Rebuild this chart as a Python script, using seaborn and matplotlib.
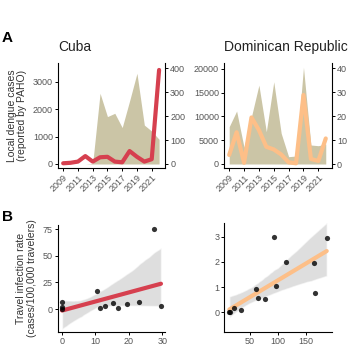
import numpy as np
import pandas as pd
import matplotlib
matplotlib.use("Agg")
import matplotlib.pyplot as plt
import seaborn as sns

# ---------------- data ----------------
years = [2009, 2010, 2011, 2012, 2013, 2014, 2015, 2016, 2017, 2018, 2019, 2020, 2021, 2022]
cuba_local = [0, 0, 0, 0, 20, 2580, 1730, 1850, 1330, 2300, 3310, 1420, 1200, 900]
cuba_travel = [3, 5, 10, 33, 10, 28, 30, 10, 7, 54, 30, 10, 20, 392]
dr_local = [7850, 11150, 3500, 10000, 16600, 6800, 17300, 6460, 1540, 1680, 20350, 4000, 3850, 4200]
dr_travel = [3.8, 13.3, 0.5, 19.5, 14.2, 7.2, 6.1, 4.0, 0.7, 0.3, 28.9, 2.1, 1.3, 10.7]
year_ticks = [2009, 2011, 2013, 2015, 2017, 2019, 2021]

cuba_x = [0.1, 0.1, 0.1, 10.5, 11.4, 12.9, 15.4, 16.7, 19.4, 22.9, 27.6, 29.6]
cuba_y = [6.9, 2.2, 0.0, 16.9, 0.5, 2.8, 5.3, 1.0, 4.7, 6.3, 75.0, 2.8]
dr_x = [13.1, 14.9, 22, 34, 61.3, 63.7, 76.8, 93.5, 96.4, 113.7, 164.3, 165.5, 187]
dr_y = [0.0, 0.0, 0.16, 0.09, 0.92, 0.55, 0.51, 2.97, 1.04, 2.0, 1.97, 0.78, 2.93]

# ---------------- style ----------------
sns.set_theme(style="ticks")
plt.rcParams['font.family'] = ['Liberation Sans', 'DejaVu Sans']
TAN = '#cbc5a6'
RED = '#d6404f'
ORANGE = '#fdbf88'
TICKC = '#555555'
TS = 6.5

fig = plt.figure(figsize=(3.48, 3.48), dpi=100)
W = H = 348.0

def add_ax(l, r, t, b):
    return fig.add_axes([l / W, 1 - b / H, (r - l) / W, (b - t) / H])

def style_ax(ax, right=False):
    for s in ['left', 'bottom']:
        ax.spines[s].set_color('black')
        ax.spines[s].set_linewidth(0.8)
    ax.spines['top'].set_visible(False)
    ax.spines['right'].set_visible(right)
    if right:
        ax.spines['right'].set_color('black')
        ax.spines['right'].set_linewidth(0.8)
    ax.tick_params(axis='both', labelsize=TS, colors='black', labelcolor=TICKC,
                   length=2.5, width=0.7, pad=1.2)
    ax.set_facecolor('none')
    ax.grid(False)

def panel_a(l, r, local, travel, color, lylim, rylim, lyticks, ryticks, title):
    ax = add_ax(l, r, 63, 168)
    ax.fill_between(years, local, 0, color=TAN, linewidth=0, zorder=1)
    ax.set_xlim(2008.3, 2022.8)
    ax.set_ylim(*lylim)
    ax.set_yticks(lyticks)
    ax.set_xticks(year_ticks)
    ax.set_xticklabels([str(y) for y in year_ticks], rotation=45, ha='right',
                       rotation_mode='anchor')
    style_ax(ax)
    ax2 = ax.twinx()
    sns.lineplot(x=years, y=travel, ax=ax2, color=color, linewidth=3.0, zorder=3)
    ax2.set_ylim(*rylim)
    ax2.set_yticks(ryticks)
    ax2.set_xlim(2008.3, 2022.8)
    style_ax(ax2, right=True)
    ax2.spines['left'].set_visible(False)
    ax2.spines['bottom'].set_visible(False)
    ax2.set_ylabel('')
    ax.set_title(title, loc='left', fontsize=10, pad=9, color='#222222')
    return ax

axA1 = panel_a(58, 165, cuba_local, cuba_travel, RED, (-146, 3686), (-16.7, 421),
               [0, 1000, 2000, 3000], [0, 100, 200, 300, 400], 'Cuba')
axA2 = panel_a(224, 331.7, dr_local, dr_travel, ORANGE, (-842, 21260), (-1.67, 42.3),
               [0, 5000, 10000, 15000, 20000], [0, 10, 20, 30, 40], 'Dominican Republic')
axA1.set_ylabel('Local dengue cases\n(reported by PAHO)', fontsize=7.5,
                color='#333333', labelpad=4, linespacing=1.1)

def panel_b(l, r, t, b, x, y, color, xlim, ylim, xticks, yticks):
    ax = add_ax(l, r, t, b)
    df = pd.DataFrame({'x': x, 'y': y})
    sns.regplot(data=df, x='x', y='y', ax=ax, ci=95, truncate=True,
                scatter_kws=dict(color='black', s=14, linewidths=0, zorder=4),
                line_kws=dict(color=color, linewidth=3.0, zorder=3))
    for c in ax.collections:
        if 'Poly' in c.__class__.__name__:
            c.set_facecolor('#c4c4c4')
            c.set_alpha(0.55)
    ax.set_xlim(*xlim)
    ax.set_ylim(*ylim)
    ax.set_xticks(xticks)
    ax.set_yticks(yticks)
    ax.set_xlabel('')
    ax.set_ylabel('')
    style_ax(ax)
    return ax

axB1 = panel_b(57.5, 165, 225, 332, cuba_x, cuba_y, RED, (-1.25, 30.8), (-21.6, 79),
               [0, 10, 20, 30], [0, 25, 50, 75])
axB2 = panel_b(224.3, 331.7, 223, 331.7, dr_x, dr_y, ORANGE, (4.1, 195.9), (-0.77, 3.54),
               [50, 100, 150], [0, 1, 2, 3])
axB1.set_ylabel('Travel infection rate\n(cases/100,000 travelers)', fontsize=7.5,
                color='#333333', labelpad=4, linespacing=1.1)

fig.text(2 / W, 1 - 42 / H, 'A', fontsize=11, fontweight='bold', color='black')
fig.text(2 / W, 1 - 221 / H, 'B', fontsize=11, fontweight='bold', color='black')

fig.savefig('out.png', dpi=100, facecolor='white')
